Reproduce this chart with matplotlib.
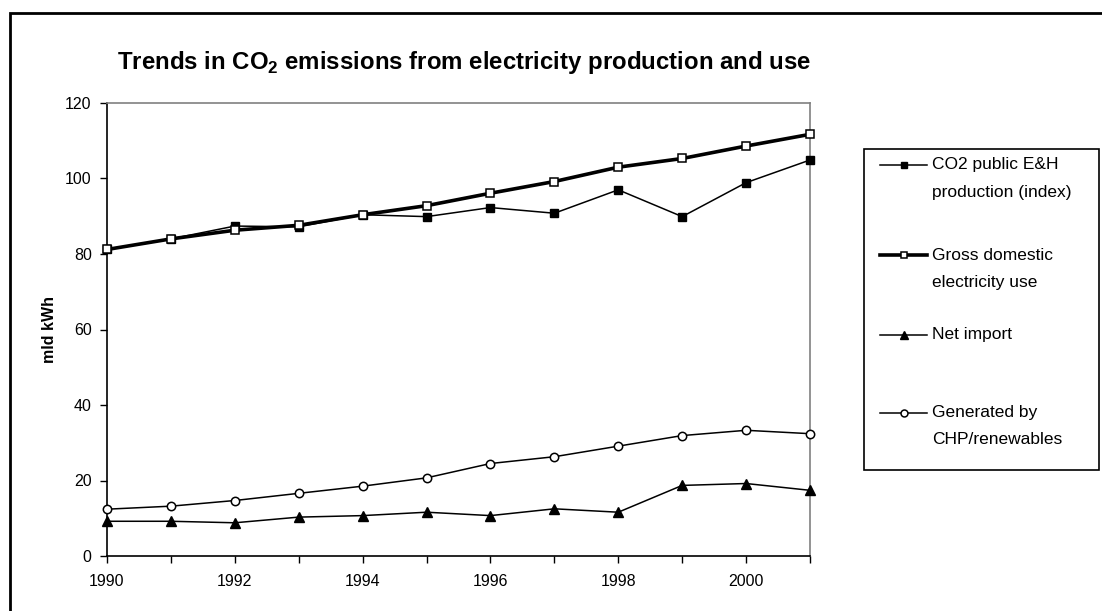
import matplotlib
matplotlib.use("Agg")
import matplotlib.pyplot as plt
from matplotlib.lines import Line2D
from matplotlib.patches import Rectangle

plt.rcParams['font.family'] = ['Liberation Sans', 'DejaVu Sans']
plt.rcParams['mathtext.fontset'] = 'custom'
plt.rcParams['mathtext.rm'] = 'Liberation Sans:bold'
plt.rcParams['mathtext.bf'] = 'Liberation Sans:bold'

years = [1990, 1991, 1992, 1993, 1994, 1995, 1996, 1997, 1998, 1999, 2000, 2001]
co2_public = [81.2, 84.0, 87.4, 87.2, 90.4, 89.9, 92.3, 90.8, 97.0, 89.9, 98.9, 104.9]
gross_use = [81.2, 84.0, 86.3, 87.6, 90.4, 92.8, 96.1, 99.2, 103.0, 105.3, 108.6, 111.7]
net_import = [9.2, 9.2, 8.8, 10.3, 10.7, 11.6, 10.7, 12.5, 11.6, 18.7, 19.2, 17.4]
chp_renew = [12.4, 13.2, 14.7, 16.6, 18.5, 20.7, 24.5, 26.3, 29.1, 31.9, 33.3, 32.4]

labels = ["CO2 public E&H\nproduction (index)", "Gross domestic\nelectricity use",
          "Net import", "Generated by\nCHP/renewables"]
title = r"Trends in CO$_{2}$ emissions from electricity production and use"
ylabel = "mld kWh"
yticks = [0, 20, 40, 60, 80, 100, 120]
xticks = [1990, 1992, 1994, 1996, 1998, 2000]

W, H = 1102, 611
fig = plt.figure(figsize=(W / 100, H / 100), dpi=100)
ax = fig.add_axes([107 / W, 1 - 556 / H, (810 - 107) / W, (556 - 103) / H])

styles = [
    dict(color='black', lw=1.1, marker='s', ms=6, mfc='black', mec='black', zorder=3),
    dict(color='black', lw=2.6, marker='s', ms=6, mfc='white', mec='black', mew=1.1, zorder=4),
    dict(color='black', lw=1.1, marker='^', ms=7, mfc='black', mec='black', zorder=3),
    dict(color='black', lw=1.1, marker='o', ms=6, mfc='white', mec='black', mew=1.1, zorder=3),
]
series = [co2_public, gross_use, net_import, chp_renew]
for s, st in zip(series, styles):
    ax.plot(years, s, clip_on=False, **st)

ax.set_xlim(1990, 2001)
ax.set_ylim(0, 120)
ax.set_xticks(years, minor=False)
ax.set_xticklabels([str(y) if y in xticks else "" for y in years])
ax.set_yticks(yticks)
ax.tick_params(axis='both', direction='out', length=5, width=1, labelsize=11.5, colors='black')
ax.tick_params(axis='x', pad=8)
ax.tick_params(axis='y', pad=6)
for side in ['left', 'bottom']:
    ax.spines[side].set_color('black')
    ax.spines[side].set_linewidth(1.2)
for side in ['top', 'right']:
    ax.spines[side].set_color('#808080')
    ax.spines[side].set_linewidth(1.2)

ax.set_ylabel(ylabel, fontsize=11.5, fontweight='bold', labelpad=6)

fig.text(464 / W, 1 - 62 / H, title, fontsize=17.3, fontweight='bold',
         ha='center', va='center')

# outer chart border (cropped at right and bottom)
fig.add_artist(Rectangle((10 / W, -0.2), 1.5, 1.2 - 13 / H, transform=fig.transFigure,
                         fill=False, edgecolor='black', lw=2, clip_on=False))

# legend box
lx0, ly0, lx1, ly1 = 864, 149, 1099, 470
fig.add_artist(Rectangle((lx0 / W, 1 - ly1 / H), (lx1 - lx0) / W, (ly1 - ly0) / H,
                         transform=fig.transFigure, fill=True, facecolor='white',
                         edgecolor='black', lw=1.2))
entry_y = [165, 255, 335, 413]
line_spacing = 27
for lab, st, yc in zip(labels, styles, entry_y):
    yy = 1 - yc / H
    kw = dict(st)
    kw.pop('zorder')
    kw['ms'] = kw['ms'] - 1
    fig.add_artist(Line2D([880 / W, 927 / W], [yy, yy], transform=fig.transFigure,
                          color='black', lw=kw['lw']))
    fig.add_artist(Line2D([903.5 / W], [yy], transform=fig.transFigure,
                          linestyle='none', **{k: v for k, v in kw.items() if k not in ('lw', 'color')}))
    for i, part in enumerate(lab.split("\n")):
        fig.text(932 / W, 1 - (yc + i * line_spacing) / H, part, fontsize=12.5,
                 ha='left', va='center')

fig.savefig("out.png", dpi=100, facecolor='white')
